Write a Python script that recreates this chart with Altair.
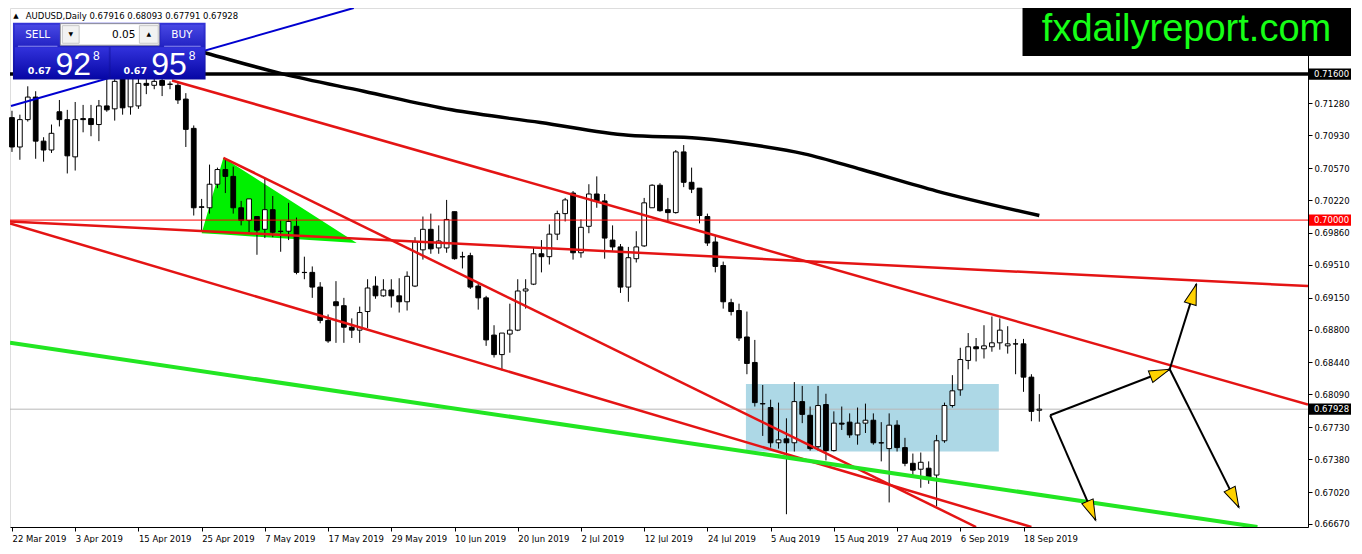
import math
import altair as alt
import pandas as pd

# ---------------- data ----------------
opens = [0.71123,0.70801,0.71101,0.71348,0.70865,0.70768,0.71187,0.71101,0.70693,0.71112,
0.71112,0.71047,0.71251,0.71219,0.71552,0.71241,0.71251,0.71498,0.71477,0.71530,
0.71487,0.71477,0.71326,0.71005,0.70146,0.70135,0.70393,0.70554,0.70479,0.70135,
0.69996,0.70039,0.69899,0.70114,0.69878,0.69878,0.69932,0.69427,0.69427,0.69266,
0.68901,0.69105,0.69062,0.68826,0.68794,0.68998,0.69277,0.69170,0.69234,0.69170,
0.69105,0.69277,0.69674,0.69899,0.69695,0.69695,0.70092,0.69599,0.69610,0.69277,
0.69148,0.68740,0.68526,0.68751,0.68794,0.69223,0.69298,0.69631,0.69599,0.69846,
0.70071,0.70296,0.69642,0.69932,0.70286,0.70210,0.69781,0.69706,0.69266,0.69577,
0.69717,0.70135,0.70382,0.70114,0.70082,0.70747,0.70414,0.70350,0.70039,0.69760,
0.69502,0.69095,0.69009,0.68719,0.68440,0.67989,0.67946,0.67560,0.67603,0.67560,
0.68011,0.67861,0.67517,0.67979,0.67474,0.67775,0.67786,0.67646,0.67775,0.67807,
0.67560,0.67496,0.67753,0.67507,0.67335,0.67270,0.67281,0.67206,0.67582,0.67968,
0.68140,0.68462,0.68612,0.68590,0.68612,0.68655,0.68622,0.68644,0.68644,0.68279,
0.67916]
highs = [0.71198,0.71155,0.71466,0.71412,0.70908,0.71047,0.71316,0.71208,0.71294,0.71262,
0.71262,0.71316,0.71552,0.71605,0.71627,0.71627,0.71584,0.71605,0.71584,0.71584,
0.71520,0.71520,0.71391,0.71037,0.70232,0.70608,0.70575,0.70672,0.70586,0.70210,
0.70232,0.70039,0.70457,0.70264,0.69996,0.70189,0.70028,0.69599,0.69492,0.69320,
0.68966,0.69331,0.69148,0.68923,0.69052,0.69352,0.69384,0.69352,0.69352,0.69363,
0.69438,0.69813,0.70039,0.70071,0.69942,0.70221,0.70092,0.69653,0.69642,0.69320,
0.69170,0.68848,0.68762,0.69084,0.69352,0.69352,0.69695,0.69781,0.69953,0.70103,
0.70243,0.70318,0.70007,0.70393,0.70479,0.70286,0.69942,0.69738,0.69706,0.69878,
0.70243,0.70393,0.70404,0.70243,0.70768,0.70822,0.70575,0.70350,0.70071,0.69835,
0.69545,0.69138,0.69084,0.68998,0.68687,0.68193,0.68032,0.68000,0.67828,0.68225,
0.68183,0.67957,0.68183,0.68097,0.67904,0.67957,0.67882,0.67946,0.67989,0.67882,
0.67786,0.67882,0.67807,0.67614,0.67442,0.67453,0.67356,0.67646,0.68000,0.68301,
0.68601,0.68762,0.68708,0.68848,0.68944,0.68923,0.68837,0.68698,0.68698,0.68311,
0.68093]
lows = [0.70747,0.70661,0.71080,0.70672,0.70640,0.70736,0.71026,0.70511,0.70543,0.70962,
0.70919,0.70865,0.71187,0.71090,0.71155,0.71155,0.71219,0.71380,0.71434,0.71359,
0.71434,0.71273,0.70801,0.70050,0.69889,0.70071,0.70350,0.70296,0.70071,0.69942,
0.69867,0.69620,0.69803,0.69813,0.69653,0.69781,0.69406,0.69352,0.69148,0.68869,
0.68655,0.68655,0.68655,0.68708,0.68655,0.68816,0.69138,0.69159,0.69041,0.68987,
0.69009,0.69266,0.69567,0.69631,0.69631,0.69642,0.69567,0.69470,0.69245,0.69019,
0.68622,0.68494,0.68354,0.68547,0.68783,0.69030,0.69288,0.69427,0.69513,0.69781,
0.69985,0.69567,0.69588,0.69856,0.70135,0.69577,0.69663,0.69202,0.69105,0.69535,
0.69706,0.70135,0.70092,0.69974,0.70071,0.70361,0.70296,0.69964,0.69717,0.69427,
0.69030,0.68955,0.68676,0.68311,0.67957,0.67635,0.67507,0.67496,0.66777,0.67464,
0.67775,0.67474,0.67474,0.67367,0.67464,0.67700,0.67614,0.67539,0.67667,0.67539,
0.67356,0.66906,0.67464,0.67303,0.67174,0.67067,0.67110,0.66863,0.67560,0.67946,
0.68075,0.68365,0.68451,0.68483,0.68558,0.68580,0.68537,0.68311,0.68118,0.67796,
0.67791]
closes = [0.70801,0.71101,0.71348,0.70865,0.70768,0.70951,0.71101,0.70704,0.71101,0.71101,
0.71047,0.71251,0.71208,0.71520,0.71230,0.71552,0.71498,0.71477,0.71520,0.71477,
0.71490,0.71316,0.70994,0.70135,0.70140,0.70393,0.70554,0.70479,0.70135,0.69996,
0.70232,0.69889,0.70114,0.69867,0.69875,0.69985,0.69427,0.69425,0.69266,0.68901,
0.68676,0.69062,0.68826,0.68794,0.68987,0.69256,0.69170,0.69234,0.69170,0.69105,
0.69384,0.69760,0.69899,0.69685,0.69771,0.70007,0.69577,0.69597,0.69266,0.69148,
0.68687,0.68526,0.68762,0.68794,0.69223,0.69245,0.69631,0.69599,0.69846,0.70071,
0.70221,0.69642,0.69921,0.70286,0.70210,0.69803,0.69706,0.69266,0.69588,0.69706,
0.70189,0.70382,0.70103,0.70082,0.70747,0.70414,0.70339,0.70050,0.69749,0.69492,
0.69105,0.68998,0.68708,0.68429,0.68000,0.67986,0.67560,0.67592,0.67560,0.68011,
0.67871,0.67496,0.67968,0.67474,0.67775,0.67764,0.67646,0.67775,0.67807,0.67560,
0.67558,0.67753,0.67507,0.67335,0.67260,0.67346,0.67185,0.67582,0.67968,0.68129,
0.68472,0.68612,0.68590,0.68622,0.68655,0.68794,0.68644,0.68642,0.68279,0.67904,
0.67928]

date_labels = ["22 Mar 2019", "3 Apr 2019", "15 Apr 2019", "25 Apr 2019", "7 May 2019",
               "17 May 2019", "29 May 2019", "10 Jun 2019", "20 Jun 2019", "2 Jul 2019",
               "12 Jul 2019", "24 Jul 2019", "5 Aug 2019", "15 Aug 2019", "27 Aug 2019",
               "6 Sep 2019", "18 Sep 2019"]
price_ticks = [0.7128, 0.7093, 0.7057, 0.7022, 0.6986, 0.6951, 0.6915, 0.6880,
               0.6844, 0.6809, 0.6773, 0.6738, 0.6702, 0.6667]

# moving average (read at sample bars)
ma_idx = [14, 24.5, 34.125, 44.5, 55.625, 66.875, 78.0, 86.875, 94.75, 100.25, 107.5, 117.0, 130.0]
ma_val = [0.72078, 0.71831, 0.71605, 0.71412, 0.71208, 0.71069, 0.70929, 0.70897,
          0.70811, 0.70726, 0.70554, 0.70318, 0.70050]

# trend lines: name, x0, y0, x1, y1 (bar index, price)
red_names = ["upper", "flat", "lower", "steep"]
red_x0 = [20.25, -0.25, -0.25, 26.75]
red_y0 = [0.71530, 0.69985, 0.69964, 0.70683]
red_x1 = [164.0, 164.0, 129.0, 122.0]
red_y1 = [0.67979, 0.69277, 0.66637, 0.66637]
green_x = [-0.25, 157.6]
green_y = [0.68655, 0.66637]
blue_x = [-0.125, 43.25]
blue_y = [0.71251, 0.72324]

# green triangle
tri_x = [24.0, 26.75, 43.625]
tri_top = [0.69856, 0.70683, 0.69749]
tri_bot = [0.69856, 0.69841, 0.69749]

# blue zone
zone_x = [92.875, 124.875]
zone_y = [0.68204, 0.67464]

# arrows
arr_x0 = [131.375, 146.5, 146.5, 131.375]
arr_y0 = [0.67861, 0.68365, 0.68365, 0.67861]
arr_x1 = [146.5, 149.875, 155.25, 137.125]
arr_y1 = [0.68365, 0.69298, 0.66852, 0.66712]

# price level lines
level_res = 0.71600
level_round = 0.70000
level_bid = 0.67928

# ---------------- layout ----------------
W, H = 1298, 519
X_DOM = [-0.25, 164.0]
Y_DOM = [0.66637, 0.72324]
xs = alt.Scale(domain=X_DOM, nice=False, zero=False)
ys = alt.Scale(domain=Y_DOM, nice=False, zero=False)
KX = W / (X_DOM[1] - X_DOM[0])
KY = H / (Y_DOM[1] - Y_DOM[0])
SX = W / 1314.0
SY = H / 530.0
FONT = "DejaVu Sans"


def px(x):
    return (x - 2) * SX


def py(y):
    return (y - 3) * SY


one = pd.DataFrame({"k": [0]})

label_js = "[" + ",".join("'%s'" % d for d in date_labels) + "][round(datum.value/8)]"
x_axis = alt.Axis(values=list(range(0, 8 * len(date_labels), 8)), labelExpr=label_js,
                  labelAlign="left", labelPadding=3, tickSize=4, labelFlush=False,
                  labelOverlap=False, grid=False, title=None, domainColor="black",
                  tickColor="black", labelColor="black", labelFont=FONT, labelFontSize=8.5,
                  orient="bottom")
y_axis = alt.Axis(values=price_ticks, format=".5f", orient="right", tickSize=4, labelPadding=2,
                  labelFlush=False, labelOverlap=False, grid=False, title=None,
                  domainColor="black", tickColor="black", labelColor="black",
                  labelFont=FONT, labelFontSize=8.5)


def X(f):
    return alt.X(f, scale=xs, axis=x_axis)


def Y(f):
    return alt.Y(f, scale=ys, axis=y_axis)


n = len(opens)
cdf = pd.DataFrame({"i": list(range(n)), "o": opens, "h": highs, "l": lows, "c": closes})
cdf["dir"] = ["up" if c >= o else "down" for o, c in zip(opens, closes)]
cdf["xl"] = cdf["i"] - 0.3
cdf["xr"] = cdf["i"] + 0.3

# zone and triangle (background)
zone = alt.Chart(pd.DataFrame({"x0": [zone_x[0]], "x1": [zone_x[1]], "y0": [zone_y[0]], "y1": [zone_y[1]]})).mark_rect(
    color="#add8e6").encode(x=X("x0:Q"), x2="x1:Q", y=Y("y0:Q"), y2="y1:Q")

tri = alt.Chart(pd.DataFrame({"x": tri_x, "t": tri_top, "b": tri_bot})).mark_area(
    color="#00f000", opacity=1).encode(x=X("x:Q"), y=Y("t:Q"), y2="b:Q")

bid = alt.Chart(pd.DataFrame({"p": [level_bid]})).mark_rule(color="#b8b8b8", strokeWidth=1).encode(
    y=Y("p:Q"))

wicks = alt.Chart(cdf).mark_rule(color="black", strokeWidth=1).encode(
    x=X("i:Q"), y=Y("l:Q"), y2="h:Q")
bodies = alt.Chart(cdf).mark_rect(stroke="black", strokeWidth=1).encode(
    x=X("xl:Q"), x2="xr:Q", y=Y("o:Q"), y2="c:Q",
    fill=alt.Fill("dir:N", scale=alt.Scale(domain=["up", "down"], range=["#ffffff", "#000000"]), legend=None))

res_line = alt.Chart(pd.DataFrame({"p": [level_res]})).mark_rule(color="black", strokeWidth=3.5).encode(
    y=Y("p:Q"))
round_line = alt.Chart(pd.DataFrame({"p": [level_round]})).mark_rule(color="#ff0000", strokeWidth=1).encode(
    y=Y("p:Q"))

rl_rows = []
for nm, a, b, c, d in zip(red_names, red_x0, red_y0, red_x1, red_y1):
    rl_rows.append({"line": nm, "x": a, "y": b})
    rl_rows.append({"line": nm, "x": c, "y": d})
red = alt.Chart(pd.DataFrame(rl_rows)).mark_line(color="#e41414", strokeWidth=2.5, clip=True).encode(
    x=X("x:Q"), y=Y("y:Q"), detail="line:N")
green = alt.Chart(pd.DataFrame({"x": green_x, "y": green_y})).mark_line(
    color="#22e622", strokeWidth=4, clip=True).encode(x=X("x:Q"), y=Y("y:Q"))
blue = alt.Chart(pd.DataFrame({"x": blue_x, "y": blue_y})).mark_line(
    color="#0000d0", strokeWidth=2, clip=True).encode(x=X("x:Q"), y=Y("y:Q"))
ma = alt.Chart(pd.DataFrame({"x": ma_idx, "y": ma_val})).mark_line(
    color="black", strokeWidth=3.5, interpolate="monotone", clip=True).encode(x=X("x:Q"), y=Y("y:Q"))

adf = pd.DataFrame({"x0": arr_x0, "y0": arr_y0, "x1": arr_x1, "y1": arr_y1})
adf["ang"] = [math.degrees(math.atan2((c - a) * KX, (d - b) * KY)) % 360
              for a, b, c, d in zip(arr_x0, arr_y0, arr_x1, arr_y1)]
arrows = alt.Chart(adf).mark_rule(color="black", strokeWidth=2).encode(
    x=X("x0:Q"), x2="x1:Q", y=Y("y0:Q"), y2="y1:Q")
heads = alt.Chart(adf).mark_point(
    shape="M0,0 L0.6,2 L-0.6,2 Z", size=420, filled=True, fill="#ffd200",
    stroke="black", strokeWidth=1, opacity=1).encode(
    x=X("x1:Q"), y=Y("y1:Q"), angle=alt.Angle("ang:Q", scale=None))


# ---------------- decorations (terminal widgets) ----------------
def box(x1, y1, x2, y2, **mk):
    return alt.Chart(one).mark_rect(**mk).encode(
        x=alt.value(px(x1)), x2=alt.value(px(x2)), y=alt.value(py(y1)), y2=alt.value(py(y2)))


def txt(x, y, s, **mk):
    return alt.Chart(pd.DataFrame({"t": [s]})).mark_text(**mk).encode(
        x=alt.value(px(x)), y=alt.value(py(y)), text="t:N")


def grad(c1, c2):
    return alt.Gradient(gradient="linear", x1=0, x2=0, y1=0, y2=1,
                        stops=[alt.GradientStop(color=c1, offset=0), alt.GradientStop(color=c2, offset=1)])


header = [
    txt(8, 11, "▲", font=FONT, fontSize=7, color="black", align="center", baseline="middle"),
    txt(18, 14, "AUDUSD,Daily  0.67916 0.68093 0.67791 0.67928", font=FONT, fontSize=8.5,
        color="black", align="left", baseline="alphabetic"),
]

panel = [
    box(5, 18, 200, 76, color=grad("#3434d8", "#0a0a9c")),
    box(7, 20, 52, 42, color=grad("#4848e4", "#2323c4")),
    box(155, 20, 198, 42, color=grad("#4848e4", "#2323c4")),
    box(10, 41.5, 50, 42.5, color="#8a8af0"),
    box(158, 41.5, 195, 42.5, color="#8a8af0"),
    box(53, 19, 153, 41, fill="#ffffff", stroke="#9a9a9a", strokeWidth=1),
    box(55, 21, 72, 39, fill="#f2f2f2", stroke="#c8c8c8", strokeWidth=1),
    box(133, 21, 152, 39, fill="#f2f2f2", stroke="#c8c8c8", strokeWidth=1),
    box(7, 43, 102, 75, color=grad("#3232dc", "#0707a6")),
    box(104, 43, 199, 75, color=grad("#3232dc", "#0707a6")),
    txt(30, 31, "SELL", font=FONT, fontSize=10.5, color="white", align="center", baseline="middle"),
    txt(176, 31, "BUY", font=FONT, fontSize=10.5, color="white", align="center", baseline="middle"),
    txt(63.5, 30, "▼", font=FONT, fontSize=6, color="black", align="center", baseline="middle"),
    txt(142.5, 30, "▲", font=FONT, fontSize=6, color="black", align="center", baseline="middle"),
    txt(129, 34, "0.05", font=FONT, fontSize=10.5, color="black", align="right", baseline="alphabetic"),
    txt(20, 70, "0.67", font=FONT, fontSize=9.5, fontWeight="bold", color="white", align="left", baseline="alphabetic"),
    txt(48, 71, "92", font="Liberation Sans", fontSize=32, color="white", align="left", baseline="alphabetic"),
    txt(86, 56, "8", font="Liberation Sans", fontSize=12, color="white", align="left", baseline="alphabetic"),
    txt(117, 70, "0.67", font=FONT, fontSize=9.5, fontWeight="bold", color="white", align="left", baseline="alphabetic"),
    txt(145, 71, "95", font="Liberation Sans", fontSize=32, color="white", align="left", baseline="alphabetic"),
    txt(183, 56, "8", font="Liberation Sans", fontSize=12, color="white", align="left", baseline="alphabetic"),
]

logo = [
    alt.Chart(one).mark_rect(color="black").encode(
        x=alt.value(px(1027)), x2=alt.value(W + 43), y=alt.value(0), y2=alt.value(48)),
    alt.Chart(pd.DataFrame({"t": ["fxdailyreport.com"]})).mark_text(
        font="Liberation Sans", fontSize=38, color="#16ff16", align="center", baseline="alphabetic").encode(
        x=alt.value(px(1193)), y=alt.value(33), text="t:N"),
]

tags = pd.DataFrame({"p": [level_res, level_round, level_bid],
                     "t": ["%.5f" % level_res, "%.5f" % level_round, "%.5f" % level_bid],
                     "bg": ["#000000", "#ff0000", "#000000"]})
tags["lo"] = tags["p"] - 0.00062
tags["hi"] = tags["p"] + 0.00062
tag_box = alt.Chart(tags).mark_rect().encode(
    x=alt.value(W + 1), x2=alt.value(W + 43),
    y=Y("lo:Q"), y2="hi:Q",
    fill=alt.Fill("bg:N", scale=None))
tag_txt = alt.Chart(tags).mark_text(font=FONT, fontSize=8.5, color="white", align="left", baseline="middle").encode(
    x=alt.value(W + 6), y=Y("p:Q"), text="t:N")

layers = [zone, tri, bid, wicks, bodies, res_line, round_line, red, green, blue, ma,
          arrows, heads] + header + panel + logo + [tag_box, tag_txt]

chart = alt.layer(*layers).properties(width=W, height=H, padding=0).configure_view(
    stroke="black", strokeWidth=1).configure(background="white")

chart.save("out.html", embed_options={"renderer": "svg", "actions": False})
